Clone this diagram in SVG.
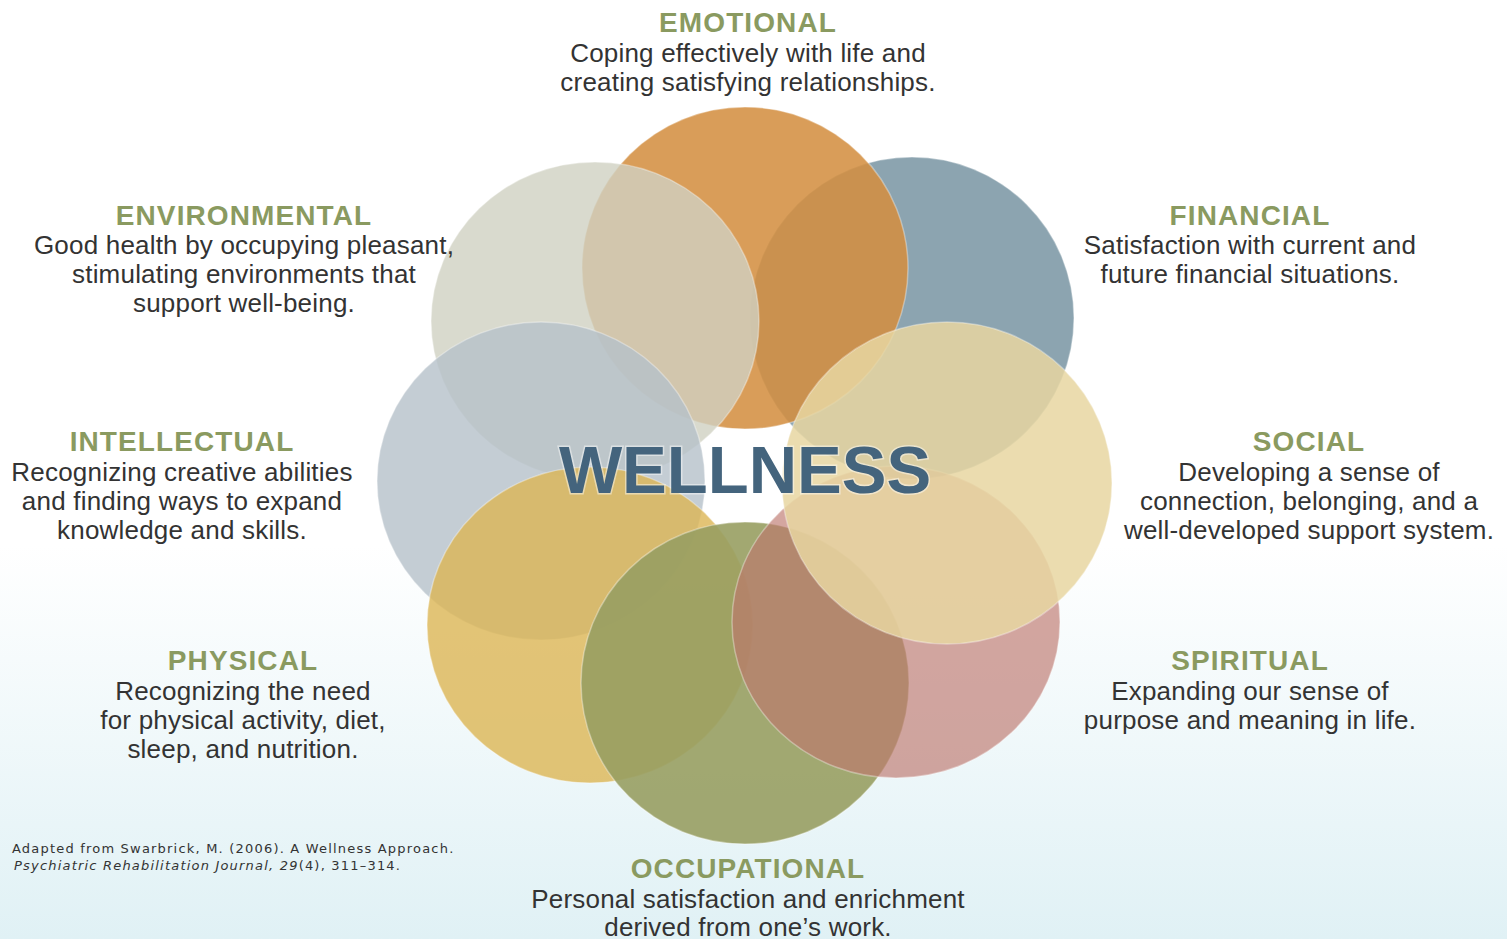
<svg xmlns="http://www.w3.org/2000/svg" width="1507" height="939" viewBox="0 0 1507 939">
<defs>
<linearGradient id="bg" x1="0" y1="0" x2="0" y2="1">
<stop offset="0" stop-color="#ffffff"/>
<stop offset="0.58" stop-color="#ffffff"/>
<stop offset="1" stop-color="#E0F1F5"/>
</linearGradient>
<style>
.petal{stroke:#ffffff;stroke-opacity:0.35;stroke-width:1.5}
.head{font-family:"Liberation Sans",Arial,sans-serif;font-weight:bold;font-size:28px;fill:#8A9A60;text-anchor:middle;letter-spacing:1.1px}
.body{font-family:"Liberation Sans",Arial,sans-serif;font-size:26px;fill:#333333;text-anchor:middle;letter-spacing:0.2px}
.cite{font-family:"DejaVu Sans",Verdana,sans-serif;font-size:13px;fill:#333333;letter-spacing:1.2px}
.center{font-family:"Liberation Sans",Arial,sans-serif;font-weight:bold;font-size:67px;fill:#44647D;text-anchor:middle;stroke:#ffffff;stroke-opacity:0.45;stroke-width:3;paint-order:stroke}
</style>
</defs>
<rect x="0" y="0" width="1507" height="939" fill="url(#bg)"/>

<g id="financial">
<ellipse class="petal" cx="912" cy="318" rx="162" ry="161" fill="#8CA4B0"/>
<text class="head" x="1250" y="225">FINANCIAL</text>
<text class="body" x="1250" y="254">Satisfaction with current and</text>
<text class="body" x="1250" y="283">future financial situations.</text>
</g>

<g id="emotional">
<ellipse class="petal" cx="745" cy="268" rx="163" ry="161" fill="#D38E40" fill-opacity="0.87"/>
<text class="head" x="748" y="32">EMOTIONAL</text>
<text class="body" x="748" y="62">Coping effectively with life and</text>
<text class="body" x="748" y="91">creating satisfying relationships.</text>
</g>

<g id="environmental">
<ellipse class="petal" cx="595" cy="321" rx="164" ry="159" fill="#D0D1C2" fill-opacity="0.8"/>
<text class="head" x="244" y="225">ENVIRONMENTAL</text>
<text class="body" x="244" y="254">Good health by occupying pleasant,</text>
<text class="body" x="244" y="283">stimulating environments that</text>
<text class="body" x="244" y="312">support well-being.</text>
</g>

<g id="intellectual">
<ellipse class="petal" cx="541" cy="481" rx="164" ry="159" fill="#B5C0C9" fill-opacity="0.8"/>
<text class="head" x="182" y="451">INTELLECTUAL</text>
<text class="body" x="182" y="481">Recognizing creative abilities</text>
<text class="body" x="182" y="510">and finding ways to expand</text>
<text class="body" x="182" y="539">knowledge and skills.</text>
</g>

<g id="physical">
<ellipse class="petal" cx="590" cy="625" rx="163" ry="158" fill="#DCB554" fill-opacity="0.8"/>
<text class="head" x="243" y="670">PHYSICAL</text>
<text class="body" x="243" y="700">Recognizing the need</text>
<text class="body" x="243" y="729">for physical activity, diet,</text>
<text class="body" x="243" y="758">sleep, and nutrition.</text>
</g>

<g id="occupational">
<ellipse class="petal" cx="745" cy="683" rx="164" ry="161" fill="#989E62" fill-opacity="0.9"/>
<text class="head" x="748" y="878">OCCUPATIONAL</text>
<text class="body" x="748" y="908">Personal satisfaction and enrichment</text>
<text class="body" x="748" y="936">derived from one’s work.</text>
</g>

<g id="spiritual">
<ellipse class="petal" cx="896" cy="622" rx="164" ry="156" fill="#BD766D" fill-opacity="0.65"/>
<text class="head" x="1250" y="670">SPIRITUAL</text>
<text class="body" x="1250" y="700">Expanding our sense of</text>
<text class="body" x="1250" y="729">purpose and meaning in life.</text>
</g>

<g id="social">
<ellipse class="petal" cx="947" cy="483" rx="165" ry="161" fill="#E8D6A1" fill-opacity="0.85"/>
<text class="head" x="1309" y="451">SOCIAL</text>
<text class="body" x="1309" y="481">Developing a sense of</text>
<text class="body" x="1309" y="510">connection, belonging, and a</text>
<text class="body" x="1309" y="539">well-developed support system.</text>
</g>

<g id="wellness">
<text class="center" x="745" y="493">WELLNESS</text>
</g>

<g id="citation">
<text class="cite" x="12" y="853">Adapted from Swarbrick, M. (2006). A Wellness Approach.</text>
<text class="cite" x="14" y="870"><tspan font-style="italic">Psychiatric Rehabilitation Journal, 29</tspan>(4), 311–314.</text>
</g>
</svg>
